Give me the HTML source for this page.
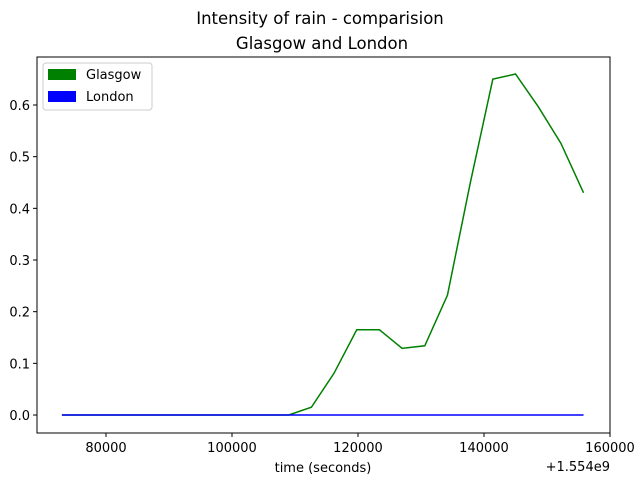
<!DOCTYPE html>
<html><head><meta charset="utf-8"><style>
body{margin:0;background:#fff}
svg{font-family:"DejaVu Sans","Liberation Sans",sans-serif}
</style></head><body>
<svg id="chart" width="640" height="480">
<rect width="640" height="480" fill="#fff"/>
<text x="320" y="24" text-anchor="middle" font-size="16.5">Intensity of rain - comparision</text>
<text x="322" y="49" text-anchor="middle" font-size="16.5">Glasgow and London</text>
<g id="plot"></g>
<text x="323" y="472" text-anchor="middle" font-size="13">time (seconds)</text>
<text x="610" y="471" text-anchor="end" font-size="13">+1.554e9</text>
<g>
<rect x="43" y="63" width="109" height="47" fill="#fff" stroke="#ccc" rx="3"/>
<rect x="48" y="69" width="28" height="11" fill="#008000"/>
<text x="86" y="79" font-size="13">Glasgow</text>
<rect x="48" y="91" width="28" height="11" fill="#0000ff"/>
<text x="86" y="101" font-size="13">London</text>
</g>
</svg>
<script>
const times=[73000,76600,80200,83800,87400,91000,94600,98200,101800,105400,109000,112600,116200,119800,123400,127000,130600,134200,137800,141400,145000,148600,152200,155800];
const glasgow=[0,0,0,0,0,0,0,0,0,0,0,0.015,0.081,0.165,0.165,0.129,0.134,0.232,0.448,0.650,0.660,0.597,0.526,0.430];
const london=[0,0,0,0,0,0,0,0,0,0,0,0,0,0,0,0,0,0,0,0,0,0,0,0];
const xTicks=[80000,100000,120000,140000,160000];
const yTicks=[0.0,0.1,0.2,0.3,0.4,0.5,0.6];
const L=37,R=610,T=57,B=433;
const xMin=69048,xMax=160000,yMin=-0.0348,yMax=0.6929;
const X=v=>L+(v-xMin)/(xMax-xMin)*(R-L);
const Y=v=>B-(v-yMin)/(yMax-yMin)*(B-T);
const NS="http://www.w3.org/2000/svg";
const g=document.getElementById('plot');
function mk(t,a){const e=document.createElementNS(NS,t);for(const k in a)e.setAttribute(k,a[k]);g.appendChild(e);return e;}
xTicks.forEach(v=>{
 const t=mk('line',{x1:X(v),x2:X(v),y1:B,y2:B+4,stroke:'#000'});
 
 
 const l=mk('text',{x:X(v),y:B+19,'text-anchor':'middle','font-size':13});
 l.textContent=v;
 
 
});
yTicks.forEach(v=>{
 const t=mk('line',{x1:L-4,x2:L,y1:Y(v),y2:Y(v),stroke:'#000'});
 
 
 const l=mk('text',{x:L-7,y:Y(v)+5,'text-anchor':'end','font-size':13});
 l.textContent=v.toFixed(1);
 
 
});
const gl=mk('polyline',{points:times.map((t,i)=>X(t)+','+Y(glasgow[i])).join(' '),fill:'none',stroke:'#008000','stroke-width':1.5});


const ln=mk('polyline',{points:times.map((t,i)=>X(t)+','+Y(london[i])).join(' '),fill:'none',stroke:'#0000ff','stroke-width':1.5});


const fr=mk('rect',{x:L,y:T,width:R-L,height:B-T,fill:'none',stroke:'#000','stroke-width':1});


</script>
</body></html>
